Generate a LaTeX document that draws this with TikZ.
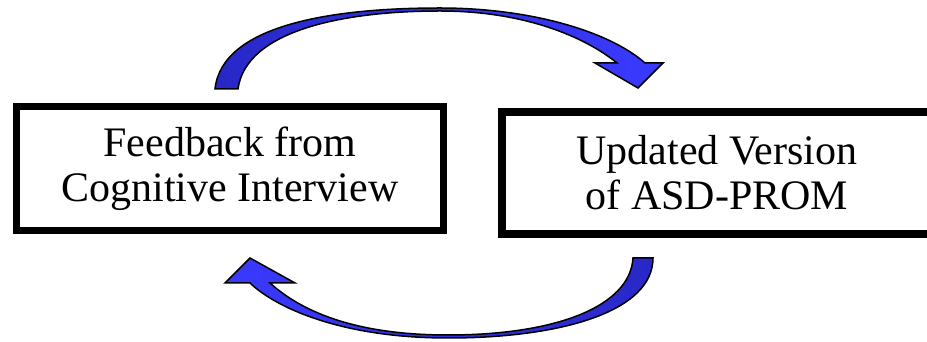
\documentclass[tikz,border=0pt]{standalone}
\usepackage{fontspec}
\setmainfont{Liberation Serif}
\usepackage{tikz}

\definecolor{arrowblue}{RGB}{58,58,255}
\definecolor{arrowdark}{RGB}{40,40,200}

\begin{document}
\begin{tikzpicture}[x=1pt, y=1pt, every node/.style={font=\fontsize{42}{45}\selectfont}]
			\tikzset{stepbox/.style={draw, align=center, inner sep=0pt},
				curvearrow/.style={draw=black, line width=1.5pt, line join=miter}}
			\useasboundingbox (0,0) rectangle (927,342);
			\fill[white] (0,0) rectangle (927,342);
			\clip (0,0) rectangle (927,342);

			% Boxes
			\node[stepbox, line width=7pt, minimum width=427pt, minimum height=124pt] (feedback) at (230,173.5) {Feedback from\\Cognitive Interview};
			\node[stepbox, line width=8pt, minimum width=430pt, minimum height=122pt] (version) at (717,169) {Updated Version\\of ASD-PROM};

			% Upper curved arrow
			\draw[curvearrow, left color=arrowdark, right color=arrowblue]
				(215,253) .. controls (222,318) and (335,334) .. (440,334)
				.. controls (532,334) and (610,310) .. (645,279)
				-- (663,279) -- (638,254) -- (595,279) -- (617,279)
				.. controls (585,305) and (525,331) .. (440,331)
				.. controls (345,331) and (246,312) .. (238,253) -- cycle;

			% Lower curved arrow
			\draw[curvearrow, left color=arrowblue, right color=arrowdark]
				(653,84) .. controls (653,30) and (560,4) .. (448,4)
				.. controls (340,4) and (275,35) .. (250,59)
				-- (225,59) -- (250,84) -- (295,59) -- (270,59)
				.. controls (300,32) and (352,7) .. (448,7)
				.. controls (555,7) and (630,35) .. (633,84) -- cycle;
		\end{tikzpicture}
\end{document}
